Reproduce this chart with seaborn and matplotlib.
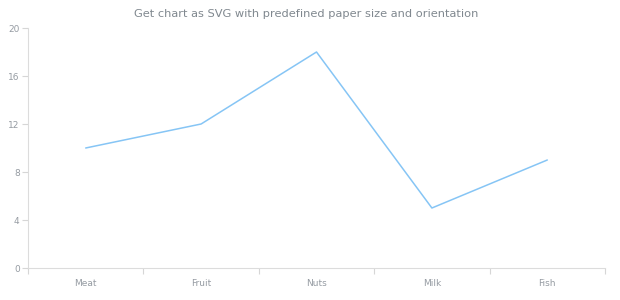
import matplotlib
matplotlib.use("Agg")
import matplotlib.pyplot as plt
import seaborn as sns
import pandas as pd
import numpy as np

categories = ["Meat", "Fruit", "Nuts", "Milk", "Fish"]
values = [10, 12, 18, 5, 9]
yticks = [0, 4, 8, 12, 16, 20]

sns.set_theme(style="white")
plt.rcParams['font.family'] = ['DejaVu Sans']

df = pd.DataFrame({"cat": categories, "val": values})

fig = plt.figure(figsize=(6.2, 3.0), dpi=100)
ax = fig.add_axes([28/620, 1-268/300, (605-28)/620, 240/300])
sns.lineplot(data=df, x="cat", y="val", ax=ax, color="#86c5f5", linewidth=1.1, sort=False)

ax.set_xlim(-0.5, len(categories) - 0.5)
ax.set_ylim(0, 20)
ax.set_yticks(yticks)
ax.set_yticklabels([str(t) for t in yticks])
ax.set_xticks(range(len(categories)))
ax.set_xticklabels(categories)
ax.set_xticks(np.arange(-0.5, len(categories), 1.0), minor=True)
ax.tick_params(axis="x", which="major", length=0, pad=8, labelsize=6.5, labelcolor="#959ba2")
ax.tick_params(axis="x", which="minor", length=4, width=0.8, color="#d6d6d6", direction="out", bottom=True)
ax.tick_params(axis="y", length=4, width=0.8, color="#d6d6d6", direction="out", left=True, pad=2,
               labelsize=6.5, labelcolor="#959ba2")
ax.set_xlabel("")
ax.set_ylabel("")
for s in ["top", "right"]:
    ax.spines[s].set_visible(False)
for s in ["left", "bottom"]:
    ax.spines[s].set_color("#dcdcdc")
    ax.spines[s].set_linewidth(0.8)

fig.text(306/620, 1-14/300, "Get chart as SVG with predefined paper size and orientation",
         ha="center", va="center", fontsize=8.2, color="#80888f")

fig.savefig("out.png", dpi=100, facecolor="white")
